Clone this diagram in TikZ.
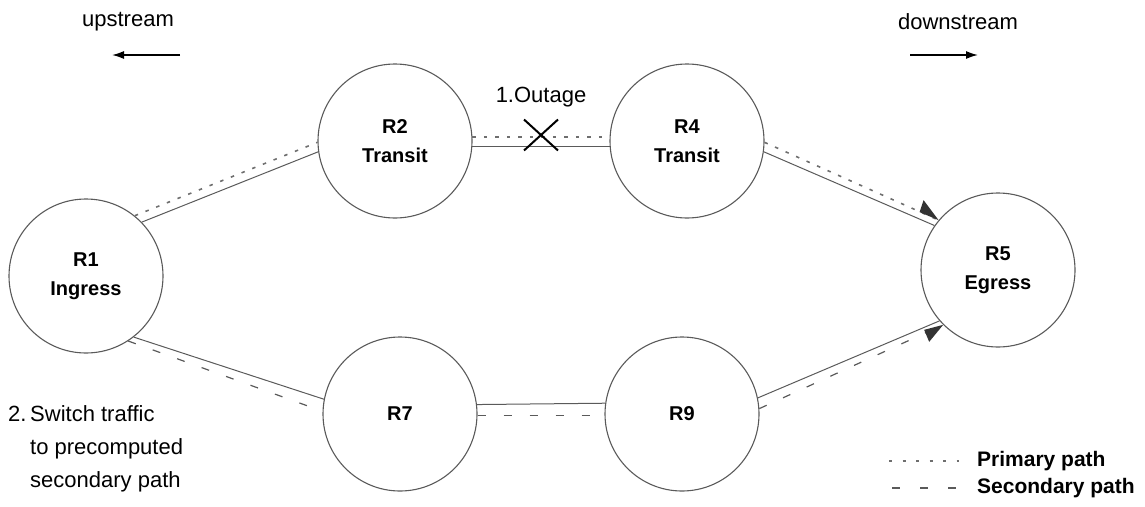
\documentclass[tikz,border=0pt]{standalone}
\usepackage{fontspec}
\setmainfont{Liberation Sans}
\usepackage{tikz}
\usetikzlibrary{arrows.meta,positioning,calc,shapes.misc}
\definecolor{lnkgray}{RGB}{90,90,90}
\definecolor{dotgray}{RGB}{110,110,110}
\tikzset{
  router/.style={circle, draw=lnkgray, line width=1.1pt, minimum size=154pt, inner sep=0pt,
    align=center, font=\fontsize{20}{29}\selectfont\bfseries},
  link/.style={draw=lnkgray, line width=1pt},
  prim/.style={draw=dotgray, line width=1.6pt, dash pattern=on 3.5pt off 8pt},
  sec/.style={draw=lnkgray, line width=1.2pt, dash pattern=on 8pt off 18pt},
  txt/.style={font=\fontsize{22}{33}\selectfont},
  lgd/.style={font=\fontsize{21}{24}\selectfont\bfseries, anchor=west, inner sep=0pt},
}

\begin{document}
\begin{tikzpicture}[x=1pt,y=-1pt]
  \useasboundingbox (0,0) rectangle (1145,506);
  % routers
  \node[router] (r1) at (86,276) {R1\\Ingress};
  \node[router] (r2) at (395,141) {R2\\Transit};
  \node[router] (r4) at (687,141) {R4\\Transit};
  \node[router] (r5) at (998,270) {R5\\Egress};
  \node[router] (r7) at (400,414) {R7};
  \node[router] (r9) at (682,414) {R9};
  % physical links
  \draw[link] (r1.44) -- (r2.188);
  \draw[link] (r2.-4.5) -- (r4.184.5);
  \draw[link] (r4.-8) -- (r5.145);
  \draw[link] (r1.-52) -- (r7.169);
  \draw[link] (r7.7.5) -- (r9.172.5);
  \draw[link] (r9.12.6) -- (r5.221);
  % primary path
  \draw[prim] (r1.51) -- (r2.181);
  \draw[prim] (r2.3) -- (r4.177);
  \draw[prim] (r4.-1.5) -- (r5.140);
  \fill[black!80] (r5.140) -- ++(-19,-8) -- ++(4,-12) -- cycle;
  % secondary path
  \draw[sec] (r1.-57) -- (r7.178);
  \draw[sec] (r7.-1.5) -- (r9.181.5);
  \draw[sec] (r9.4) -- (r5.225);
  \fill[black!80] (r5.225) -- ++(-19,5) -- ++(5,12) -- cycle;
  % outage
  \node[cross out, draw=black, line width=2pt, minimum width=32pt, minimum height=29pt] (cut) at (541,135) {};
  \node[txt] (outage) at (541,97) {1.Outage};
  % direction
  \node[txt] (up) at (128,22) {upstream};
  \coordinate (upa) at (180,55);
  \coordinate (upb) at (112,55);
  \draw[line width=1.5pt, -{Latex[length=12pt,width=8pt]}] (upa) -- (upb);
  \node[txt] (down) at (958,22) {downstream};
  \coordinate (dna) at (910,55);
  \coordinate (dnb) at (978,55);
  \draw[line width=1.5pt, -{Latex[length=12pt,width=8pt]}] (dna) -- (dnb);
  % note
  \node[txt, anchor=north west, inner sep=0pt] (note) at (8,398)
    {\begin{tabular}{@{}l@{\,}l@{}}2. & Switch traffic\\ & to precomputed\\ & secondary path\end{tabular}};
  % legend
  \coordinate (lp1) at (889,461);
  \coordinate (lp2) at (959,461);
  \coordinate (ls1) at (892,488);
  \coordinate (ls2) at (957,488);
  \draw[prim, dash pattern=on 3pt off 10.5pt] (lp1) -- (lp2);
  \draw[sec, dash pattern=on 8pt off 20pt] (ls1) -- (ls2);
  \node[lgd] (lgp) at (977,461) {Primary path};
  \node[lgd] (lgs) at (977,488) {Secondary path};
\end{tikzpicture}
\end{document}
